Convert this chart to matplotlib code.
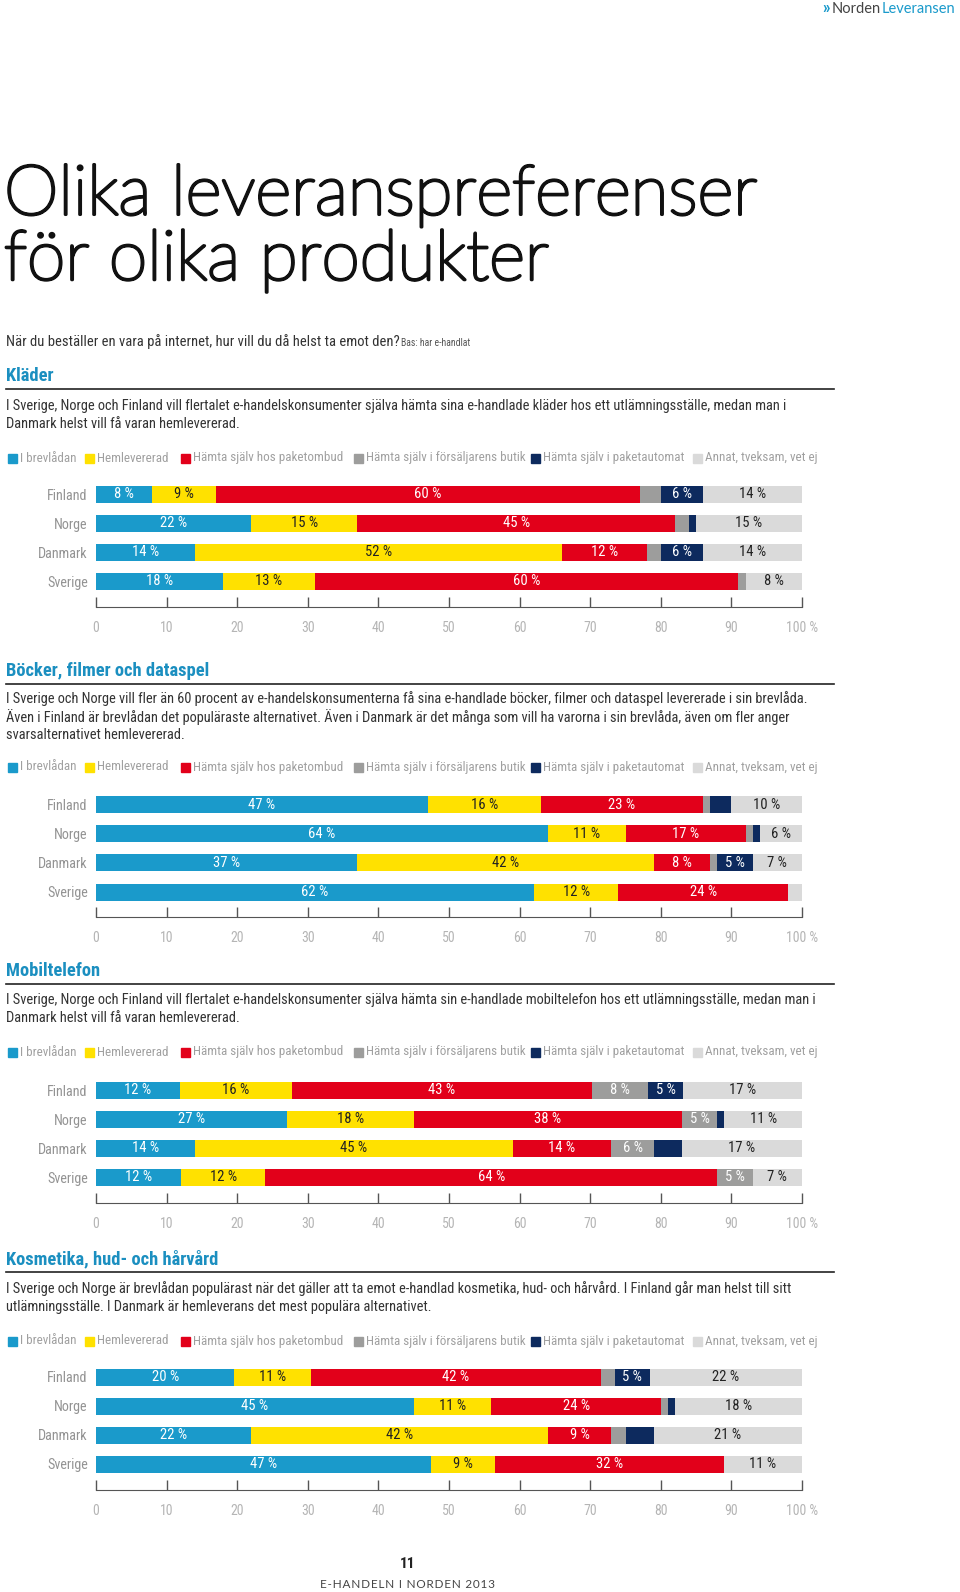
import matplotlib
matplotlib.use('Agg')
import matplotlib.pyplot as plt
import matplotlib.patheffects as pe
import numpy as np
from matplotlib import font_manager
from matplotlib.patches import Rectangle

# data: rows are Finland, Norge, Danmark, Sverige
countries = ['Finland', 'Norge', 'Danmark', 'Sverige']
categories = ['I brevlådan', 'Hemlevererad', 'Hämta själv hos paketombud',
              'Hämta själv i försäljarens butik', 'Hämta själv i paketautomat',
              'Annat, tveksam, vet ej']
colors = ['#1a9acb', '#ffe100', '#e2001a', '#9d9d9c', '#0d2a5e', '#dadada']
label_colors = ['white', '#222222', 'white', 'white', 'white', '#222222']

klader = [[8, 9, 60, 3, 6, 14],
          [22, 15, 45, 2, 1, 15],
          [14, 52, 12, 2, 6, 14],
          [18, 13, 60, 1, 0, 8]]
bocker = [[47, 16, 23, 1, 3, 10],
          [64, 11, 17, 1, 1, 6],
          [37, 42, 8, 1, 5, 7],
          [62, 12, 24, 0, 0, 2]]
mobil = [[12, 16, 43, 8, 5, 17],
         [27, 18, 38, 5, 1, 11],
         [14, 45, 14, 6, 4, 17],
         [12, 12, 64, 5, 0, 7]]
kosmetika = [[20, 11, 42, 2, 5, 22],
             [45, 11, 24, 1, 1, 18],
             [22, 42, 9, 2, 4, 21],
             [47, 9, 32, 0, 0, 11]]

headers = ['Kläder', 'Böcker, filmer och dataspel', 'Mobiltelefon', 'Kosmetika, hud- och hårvård']
texts = [
    ['I Sverige, Norge och Finland vill flertalet e-handelskonsumenter själva hämta sina e-handlade kläder hos ett utlämningsställe, medan man i',
     'Danmark helst vill få varan hemlevererad.'],
    ['I Sverige och Norge vill fler än 60 procent av e-handelskonsumenterna få sina e-handlade böcker, filmer och dataspel levererade i sin brevlåda.',
     'Även i Finland är brevlådan det populäraste alternativet. Även i Danmark är det många som vill ha varorna i sin brevlåda, även om fler anger',
     'svarsalternativet hemlevererad.'],
    ['I Sverige, Norge och Finland vill flertalet e-handelskonsumenter själva hämta sin e-handlade mobiltelefon hos ett utlämningsställe, medan man i',
     'Danmark helst vill få varan hemlevererad.'],
    ['I Sverige och Norge är brevlådan populärast när det gäller att ta emot e-handlad kosmetika, hud- och hårvård. I Finland går man helst till sitt',
     'utlämningsställe. I Danmark är hemleverans det mest populära alternativet.'],
]
datasets = [klader, bocker, mobil, kosmetika]

# fonts
names = {f.name for f in font_manager.fontManager.ttflist}
narrow = next((n for n in ['Liberation Sans Narrow', 'Roboto Condensed', 'Open Sans Condensed']
               if n in names), 'Liberation Sans')
thin = 'Lato' if 'Lato' in names else 'DejaVu Sans'

W, H = 960, 1592
fig = plt.figure(figsize=(W / 100, H / 100), dpi=100)


def fx(x):
    return x / W


def fy(y):
    return 1 - y / H


def txt(x, y, s, **kw):
    kw.setdefault('family', narrow)
    kw.setdefault('va', 'center')
    fig.text(fx(x), fy(y), s, **kw)


# top-right tag
txt(822, 9, '»', color='#1a9acb', fontsize=12, weight='bold')
txt(832, 9, 'Norden', color='#444444', fontsize=10.5, family=thin)
txt(882, 9, 'Leveransen', color='#1a9acb', fontsize=10.5, family=thin)

# title (thin face thickened a little with a stroke)
title_fx = [pe.withStroke(linewidth=2.2, foreground='#111111')]
txt(4, 196, 'Olika leveranspreferenser', family=thin, weight='light', fontsize=50,
    color='#111111', path_effects=title_fx)
txt(4, 261, 'för olika produkter', family=thin, weight='light', fontsize=50,
    color='#111111', path_effects=title_fx)

txt(6, 342, 'När du beställer en vara på internet, hur vill du då helst ta emot den?', fontsize=10.5, color='#333333')
txt(401, 343, 'Bas: har e-handlat', fontsize=7, color='#555555')

# section layout (pixel y positions)
header_y = [376, 671, 971, 1259]
body_y = [406, 699, 1000, 1289]
legend_y = [458, 767, 1052, 1341]
bar1_y = [494, 805, 1090, 1377]
axis_y = [607, 917, 1203, 1490]
legend_x = [8, 85, 181, 354, 531, 693]

x0, x1 = 96, 802
step = 29

for k in range(4):
    txt(6, header_y[k], headers[k], fontsize=13.3, weight='bold', color='#1b8fc0')
    fig.add_artist(plt.Line2D([fx(6), fx(834)], [fy(header_y[k] + 13)] * 2, color='#222222', lw=1.2))
    for i, line in enumerate(texts[k]):
        txt(6, body_y[k] + i * 18, line, fontsize=10.4, color='#333333')
    for c in range(6):
        fig.add_artist(Rectangle((fx(legend_x[c]), fy(legend_y[k] + 5)), fx(9), 9 / H,
                                 color=colors[c], transform=fig.transFigure))
        txt(legend_x[c] + 12, legend_y[k], categories[c], fontsize=9.4, color='#a0a0a0')

    top = bar1_y[k] - step / 2
    bottom = axis_y[k]
    ax = fig.add_axes([fx(x0), fy(bottom), fx(x1 - x0), (bottom - top) / H])
    data = np.array(datasets[k], dtype=float)
    pct = data / data.sum(axis=1, keepdims=True) * 100
    ypos = np.arange(len(countries))
    left = np.zeros(len(countries))
    for c in range(6):
        ax.barh(ypos, pct[:, c], left=left, height=17 / step, color=colors[c], linewidth=0)
        for r in range(len(countries)):
            if data[r, c] >= 5:
                ax.text(left[r] + pct[r, c] / 2, ypos[r], f'{int(data[r, c])} %',
                        ha='center', va='center', fontsize=10.5, family=narrow,
                        color=label_colors[c])
        left += pct[:, c]
    ax.set_xlim(0, 100)
    ax.set_ylim(3 + (bottom - (bar1_y[k] + 3 * step)) / step, -0.5)
    ax.set_yticks(ypos)
    ax.set_yticklabels(countries, family=narrow, fontsize=10.2, color='#939393')
    ax.tick_params(axis='y', length=0, pad=6)
    ax.set_xticks(range(0, 101, 10))
    ax.set_xticklabels([str(v) for v in range(0, 100, 10)] + ['100 %'],
                       family=narrow, fontsize=10, color='#b5b5b5')
    ax.tick_params(axis='x', direction='in', length=7, width=1, color='#555555', pad=10)
    for s in ['top', 'right', 'left']:
        ax.spines[s].set_visible(False)
    ax.spines['bottom'].set_color('#555555')
    ax.patch.set_alpha(0)

# footer
txt(408, 1564, '11', fontsize=11, weight='bold', color='#222222', ha='center')
txt(408, 1584, '\u200a'.join('E-HANDELN I NORDEN 2013'), fontsize=8.5, color='#444444',
    ha='center', family=[thin, 'DejaVu Sans'])

fig.savefig('out.png', dpi=100)
